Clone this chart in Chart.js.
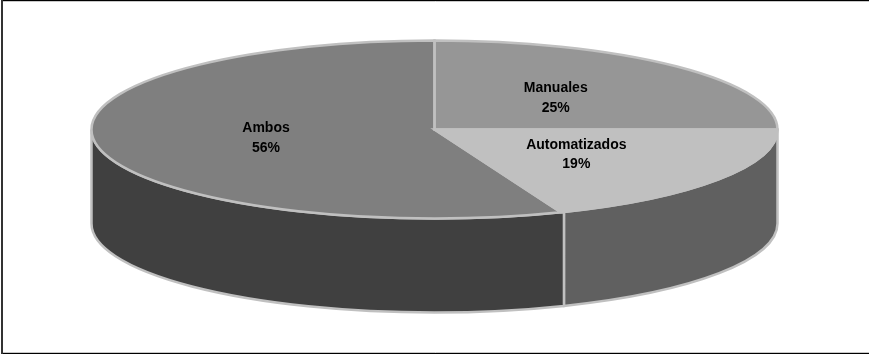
<!DOCTYPE html>
<html>
<head>
<meta charset="utf-8">
<style>
  html, body { margin: 0; background: #fff; overflow: hidden; }
  canvas { display: block; }
</style>
</head>
<body>
<canvas id="pie-chart" width="869" height="356"></canvas>
<script src="https://cdn.jsdelivr.net/npm/chart.js@4"></script>
<script>
const categories = ["Manuales", "Automatizados", "Ambos"];
const percents = [25, 19, 56];
const topColors = ["#969696", "#c0c0c0", "#7f7f7f"];
const wallColors = ["#969696", "#606060", "#404040"];

const edgeColor = "#c0c0c0";
const radiusX = 343;
const radiusY = 89;
const centerY = 129.5;
const depth = 94;
// the wall seam sits a little right of the rim corner in the picture
const seamShift = 0.01;

function line(ctx, color, width, x1, y1, x2, y2) {
  ctx.strokeStyle = color;
  ctx.lineWidth = width;
  ctx.beginPath();
  ctx.moveTo(x1, y1);
  ctx.lineTo(x2, y2);
  ctx.stroke();
}

// the pie is laid out as a full circle, then flattened onto an ellipse
const tiltedPie = {
  id: "tiltedPie",
  beforeDatasetsDraw(chart) {
    const ctx = chart.ctx;
    const arcs = chart.getDatasetMeta(0).data;
    const cx = arcs[0].x;
    arcs.forEach((arc, i) => {
      const from = Math.max(arc.startAngle - seamShift, 0);
      const to = Math.min(arc.endAngle - seamShift, Math.PI);
      if (to <= from) return;
      ctx.beginPath();
      ctx.ellipse(cx, centerY, radiusX, radiusY, 0, from, i == 2 ? Math.PI : to);
      ctx.ellipse(cx, centerY + depth, radiusX, radiusY, 0, i == 2 ? Math.PI : to, from, true);
      ctx.closePath();
      ctx.fillStyle = wallColors[i];
      ctx.strokeStyle = edgeColor;
      ctx.lineWidth = 2.5;
      ctx.fill();
      ctx.stroke();
    });
    ctx.save();
    ctx.translate(cx, centerY);
    ctx.scale(1, radiusY / radiusX);
    ctx.translate(-cx, -arcs[0].y);
  },
  afterDatasetsDraw(chart) {
    const ctx = chart.ctx;
    ctx.restore();
    const arcs = chart.getDatasetMeta(0).data;
    const cx = arcs[0].x;
    arcs.forEach((arc) => {
      ctx.beginPath();
      ctx.moveTo(cx, centerY);
      ctx.ellipse(cx, centerY, radiusX, radiusY, 0, arc.startAngle, arc.endAngle);
      ctx.closePath();
      ctx.strokeStyle = edgeColor;
      ctx.lineWidth = 2.5;
      ctx.stroke();
    });
    ctx.fillStyle = "#000";
    ctx.font = "bold 14px 'Liberation Sans'";
    ctx.textAlign = "center";
    ctx.textBaseline = "middle";
    arcs.forEach((arc, i) => {
      const mid = (arc.startAngle + arc.endAngle) / 2;
      const x = cx + Math.cos(mid) * radiusX * 0.5;
      const y = centerY + Math.sin(mid) * radiusY * 0.5;
      ctx.fillText(categories[i], x, y - 9.5);
      ctx.fillText(percents[i] + "%", x, y + 10);
    });
    // frame: no right side in the picture
    line(ctx, "#c8c8c8", 1, 2, 1.5, 869, 1.5);
    line(ctx, "#000", 1, 1, 0.5, 869, 0.5);
    line(ctx, "#c8c8c8", 1, 2, 352.5, 869, 352.5);
    line(ctx, "#000", 1, 1, 353.5, 869, 353.5);
    line(ctx, "#333", 2, 2, 0, 2, 354);
  },
};

new Chart(document.getElementById("pie-chart"), {
  type: "pie",
  data: {
    labels: categories,
    datasets: [
      {
        data: percents,
        backgroundColor: topColors,
        borderWidth: 0,
        clip: false,
      },
    ],
  },
  options: {
    responsive: false,
    animation: false,
    radius: radiusX,
    plugins: {
      legend: { display: false },
      tooltip: { enabled: false },
    },
  },
  plugins: [tiltedPie],
});
</script>
</body>
</html>
